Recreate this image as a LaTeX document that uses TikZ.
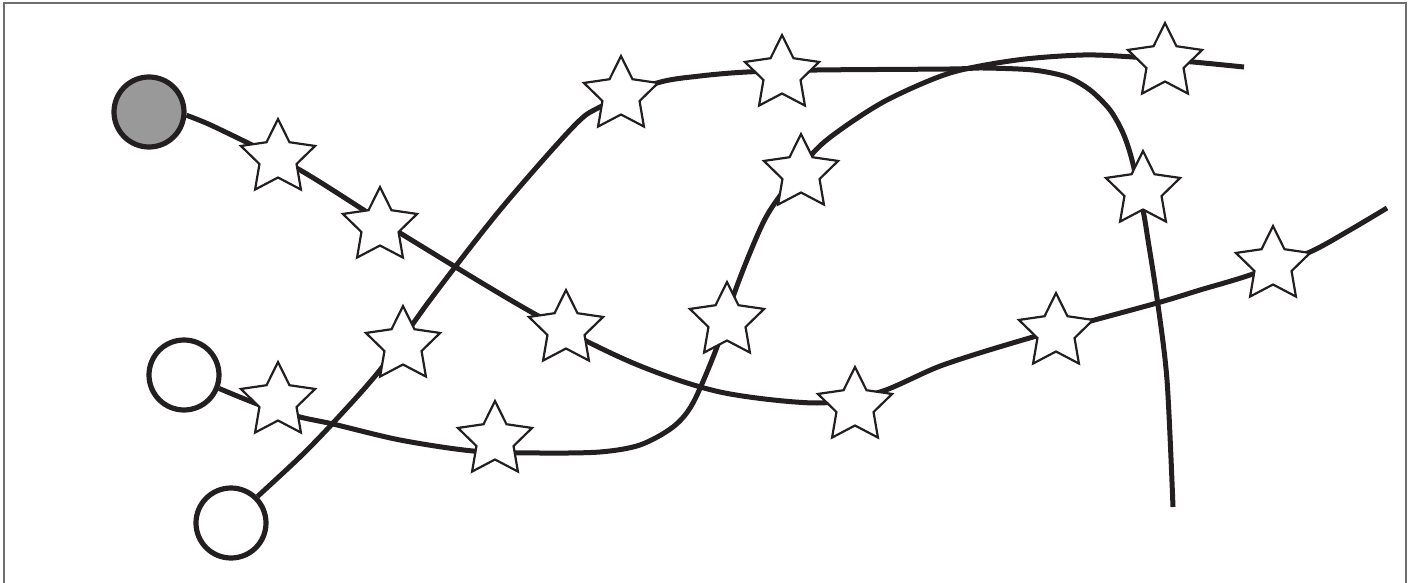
\documentclass[tikz,border=0pt]{standalone}
\usepackage{tikz}
\usetikzlibrary{shapes.geometric,backgrounds}
\definecolor{inkdark}{HTML}{231F20}
\definecolor{framegray}{HTML}{6D6E71}
\tikzset{
  startdot/.style={circle,draw=inkdark,line width=2.6pt,minimum size=35pt,inner sep=0pt,fill=white},
  startfill/.style={startdot,fill=black!40},
  starmark/.style={star,star points=5,star point ratio=2,draw=inkdark,line width=1.1pt,fill=white,minimum size=39pt,inner sep=0pt},
  track/.style={draw=inkdark,line width=2.5pt},
  frameline/.style={draw=framegray,line width=0.8pt}
}
\begin{document}
\begin{tikzpicture}[x=0.5pt,y=-0.5pt]
\useasboundingbox (0,0) rectangle (1414,583);
\node[startfill] (hub) at (149,112) {};
\node[startdot] (a) at (184,375) {};
\node[startdot] (b) at (231,523) {};
\foreach \n/\x/\y in {1/278/158,2/380/226,3/566/329,4/403/345,5/278/401,6/495/440,7/621/95,8/782/74,
  9/801/173,10/727/321,11/855/406,12/1056/332,13/1273/265,14/1143/190,15/1165/62}
  \node[starmark] (s\n) at (\x,\y) {};
\begin{scope}[on background layer]
\draw[frameline] (4,583) -- (4,3) -- (1406,3) -- (1406,583);
% track from the grey start
\draw[track] plot[smooth] coordinates {(hub.-5) (217,128) (300,170) (400,233) (533,313) (633,363) (720,392)
  (817,403) (880,392) (943,365) (1033,337) (1157,303) (1200,290) (1250,275) (1310,252) (1350,230) (1387,208)};
% track from the upper white start
\draw[track] plot[smooth] coordinates {(a.-21) (260,405) (300,417) (333,424) (400,440) (473,451) (540,453)
  (600,452) (640,445) (673,427) (693,403) (717,347) (733,297) (747,260) (763,223) (777,200) (813,153)
  (840,130) (887,100) (950,73) (1017,60) (1083,55) (1133,57) (1193,62) (1244,67)};
% track from the lower white start
\draw[track] plot[smooth] coordinates {(b.45) (300,457) (333,423) (380,370) (430,300) (500,210) (573,127)
  (600,107) (657,83) (700,76) (747,72) (817,70) (950,69) (983,68) (1033,70) (1067,77) (1090,90)
  (1110,110) (1123,133) (1132,160) (1143,210) (1148,240) (1157,298) (1167,380) (1173,507)};
\end{scope}
\end{tikzpicture}
\end{document}
